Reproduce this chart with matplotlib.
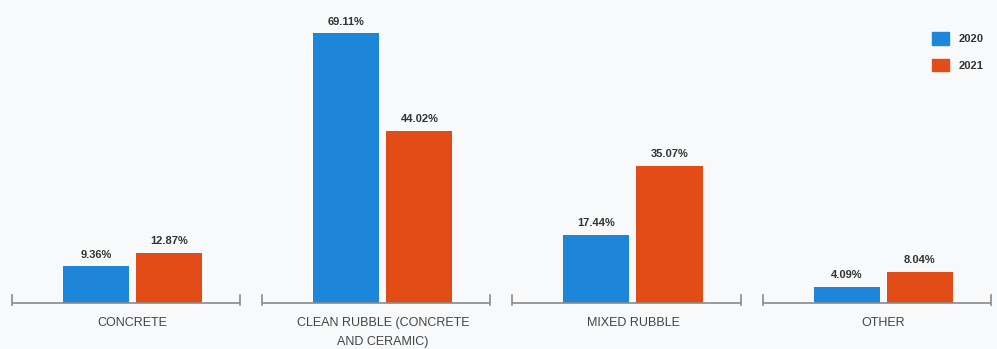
import numpy as np
import matplotlib.pyplot as plt
from matplotlib.patches import Patch

categories = ["CONCRETE", "CLEAN RUBBLE (CONCRETE\nAND CERAMIC)", "MIXED RUBBLE", "OTHER"]
years = ["2020", "2021"]
v2020 = [9.36, 69.11, 17.44, 4.09]
v2021 = [12.87, 44.02, 35.07, 8.04]

blue = "#1e86d8"
orange = "#e24d17"
bg = "#f8f9fa"
grey = "#8a8a8a"

fig = plt.figure(figsize=(9.97, 3.49), dpi=100, facecolor=bg)
ax = fig.add_axes([0, 46/349, 1, 303/349])
ax.set_facecolor(bg)

x = np.arange(len(categories))
w = 0.264
off = 0.146

b1 = ax.bar(x - off, v2020, w, color=blue, label=years[0])
b2 = ax.bar(x + off, v2021, w, color=orange, label=years[1])

for bars, vals in ((b1, v2020), (b2, v2021)):
    for r, v in zip(bars, vals):
        ax.annotate(f"{v:.2f}%", (r.get_x() + r.get_width()/2, v),
                    xytext=(0, 5), textcoords="offset points",
                    ha="center", va="bottom", fontsize=8, fontweight="bold",
                    color="#333333", family="Liberation Sans")

# per-group baseline with end ticks
for xi in x:
    ax.plot([xi - 0.482, xi + 0.43], [0, 0], color=grey, lw=1.2,
            solid_capstyle="butt", clip_on=False)
    for xe in (xi - 0.482, xi + 0.43):
        ax.plot([xe, xe], [-0.6, 2.0], color=grey, lw=1.2, clip_on=False)

ax.set_xlim(-0.53, 3.455)
ax.set_ylim(0, 303/3.9)
ax.set_xticks(x)
ax.set_xticklabels(categories, fontsize=9, color="#444444",
                   family="Liberation Sans", linespacing=1.75)
ax.tick_params(axis="x", length=0, pad=10)
ax.set_yticks([])
for s in ax.spines.values():
    s.set_visible(False)

handles = [Patch(color=blue, label=years[0]), Patch(color=orange, label=years[1])]
leg = ax.legend(handles=handles, loc="upper left", bbox_to_anchor=(928/997, 1 - 28/303),
                frameon=False, handlelength=1.5, handleheight=1.3,
                labelspacing=1.3, handletextpad=0.9, borderaxespad=0,
                prop={"family": "Liberation Sans", "weight": "bold", "size": 8})
for t in leg.get_texts():
    t.set_color("#333333")

fig.savefig("out.png", dpi=100, facecolor=bg)
